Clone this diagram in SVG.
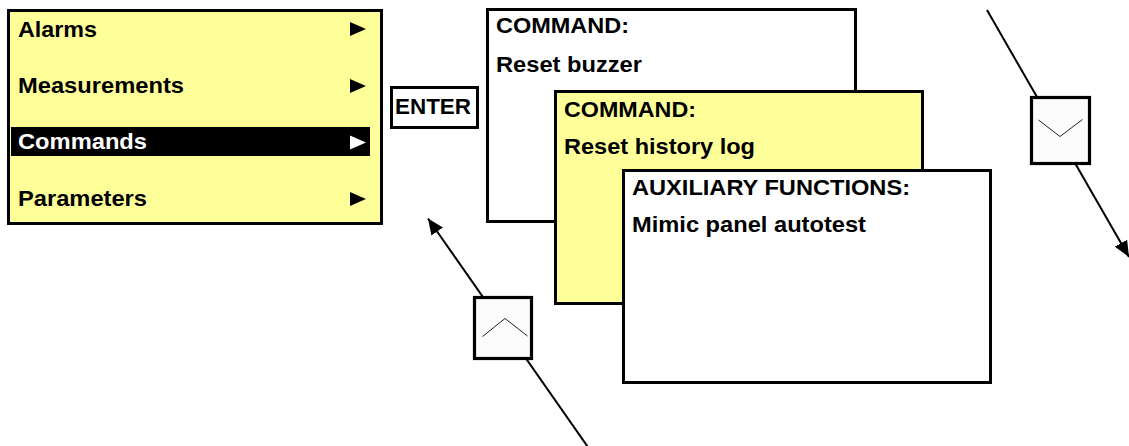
<svg xmlns="http://www.w3.org/2000/svg" width="1129" height="446" viewBox="0 0 1129 446">
  <style>
    .frame { stroke: #000; stroke-width: 3; }
    .yellow { fill: #ffff99; }
    .white { fill: #ffffff; }
    .key { fill: #fcfcfc; stroke: #000; stroke-width: 3.2; }
    .chev { fill: none; stroke: #222; stroke-width: 1; }
    .txt { font-family: "Liberation Sans", Arial, sans-serif; font-weight: bold; font-size: 22px; fill: #000; }
    .inv { fill: #fff; }
    .link { stroke: #000; stroke-width: 2; fill: none; }
  </style>
  <defs>
    <marker id="head" markerUnits="userSpaceOnUse" markerWidth="18" markerHeight="14" refX="16" refY="7" orient="auto">
      <path d="M0,0 L16,7 L0,14 z" fill="#000"/>
    </marker>
  </defs>

  <rect width="1129" height="446" fill="#fff"/>

  <!-- connectors: scroll arrows running behind the arrow keys -->
  <g id="connectors">
    <line class="link" x1="590" y1="450" x2="428" y2="218.5" marker-end="url(#head)"/>
    <line class="link" x1="987" y1="10" x2="1129" y2="257" marker-end="url(#head)"/>
  </g>

  <!-- main menu -->
  <g id="menu">
    <rect class="frame yellow" x="8.5" y="10.5" width="373" height="213"/>
    <rect x="11" y="127" width="359" height="29" fill="#000"/>
    <text class="txt" x="18" y="37" textLength="79" lengthAdjust="spacingAndGlyphs">Alarms</text>
    <text class="txt" x="18" y="92.5" textLength="166" lengthAdjust="spacingAndGlyphs">Measurements</text>
    <text class="txt inv" x="18" y="149" textLength="129" lengthAdjust="spacingAndGlyphs">Commands</text>
    <text class="txt" x="18" y="206" textLength="129" lengthAdjust="spacingAndGlyphs">Parameters</text>
    <path d="M350,22 L366,29 L350,36 z" fill="#000"/>
    <path d="M350,79 L366,86 L350,93 z" fill="#000"/>
    <path d="M350,135.5 L366,142.5 L350,149.5 z" fill="#fff"/>
    <path d="M350,192 L366,199 L350,206 z" fill="#000"/>
  </g>

  <!-- ENTER key -->
  <g id="enter">
    <rect class="frame white" x="391.5" y="87.5" width="86" height="40"/>
    <text class="txt" x="395" y="113.5" textLength="76" lengthAdjust="spacingAndGlyphs">ENTER</text>
  </g>

  <!-- command screen: reset buzzer -->
  <g id="cmd-buzzer">
    <rect class="frame white" x="487.5" y="9.5" width="368" height="212"/>
    <text class="txt" x="496" y="33" textLength="133" lengthAdjust="spacingAndGlyphs">COMMAND:</text>
    <text class="txt" x="496" y="72" textLength="146" lengthAdjust="spacingAndGlyphs">Reset buzzer</text>
  </g>

  <!-- command screen: reset history log -->
  <g id="cmd-history">
    <rect class="frame yellow" x="555.5" y="91.5" width="367" height="212"/>
    <text class="txt" x="564" y="116.5" textLength="132" lengthAdjust="spacingAndGlyphs">COMMAND:</text>
    <text class="txt" x="564" y="154" textLength="191" lengthAdjust="spacingAndGlyphs">Reset history log</text>
  </g>

  <!-- auxiliary functions screen -->
  <g id="aux-functions">
    <rect class="frame white" x="623.5" y="170.5" width="367" height="212"/>
    <text class="txt" x="632" y="194.5" textLength="278" lengthAdjust="spacingAndGlyphs">AUXILIARY FUNCTIONS:</text>
    <text class="txt" x="632" y="232" textLength="234" lengthAdjust="spacingAndGlyphs">Mimic panel autotest</text>
  </g>

  <!-- up key -->
  <g id="key-up">
    <rect class="key" x="474.5" y="297.5" width="57" height="61"/>
    <polyline class="chev" points="482.5,336.5 505,318.5 527.5,336"/>
  </g>

  <!-- down key -->
  <g id="key-down">
    <rect class="key" x="1031.5" y="97.5" width="58" height="66"/>
    <polyline class="chev" points="1038.5,120 1060,136.5 1082.5,119.5"/>
  </g>
</svg>
